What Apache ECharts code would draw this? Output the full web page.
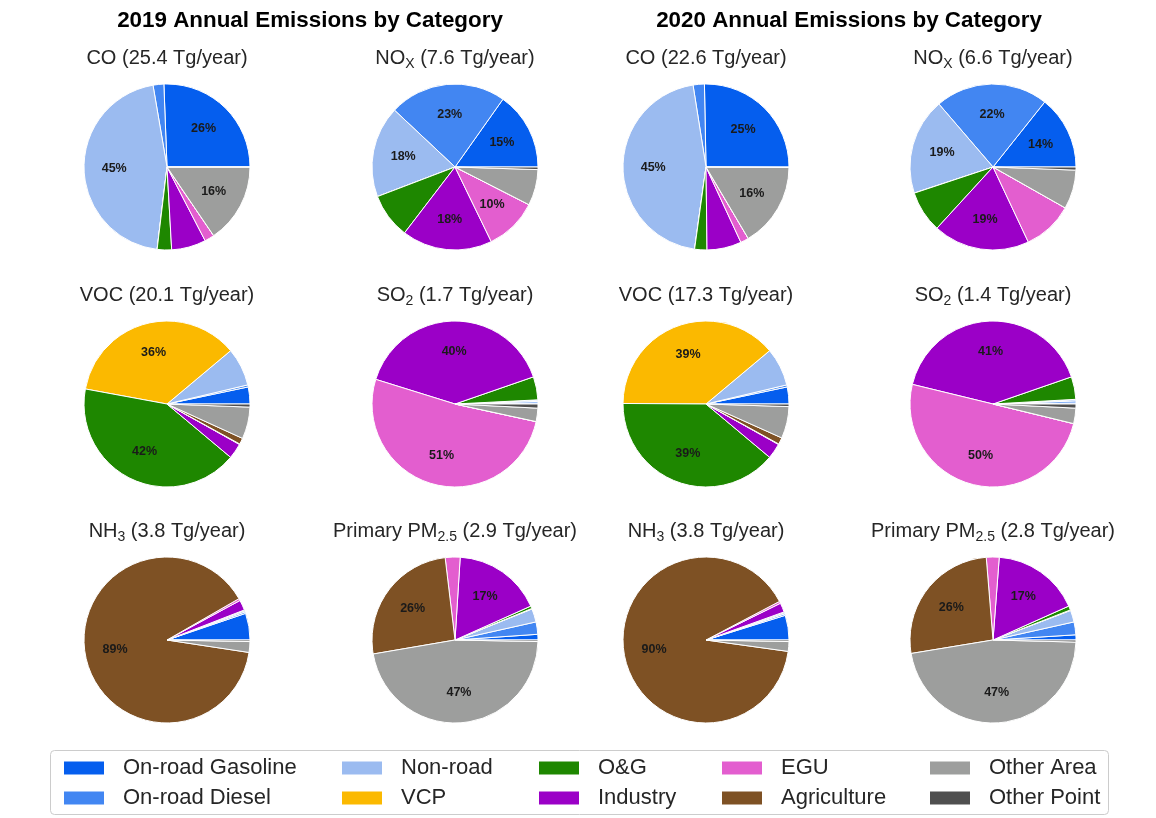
<!DOCTYPE html>
<html>
<head>
<meta charset="utf-8">
<script src="https://cdn.jsdelivr.net/npm/echarts@6/dist/echarts.min.js"></script>
<style>
  html, body { margin: 0; padding: 0; background: #ffffff; }
  #chart { width: 1156px; height: 818px; }
</style>
</head>
<body>
<div id="chart"></div>
<script>
// Emission source categories (pie slice order, counter-clockwise from 3 o'clock)
const categories = ['On-road Gasoline', 'On-road Diesel', 'Non-road', 'VCP', 'O&G',
                    'Industry', 'EGU', 'Agriculture', 'Other Area', 'Other Point'];
const categoryColors = ['#055eee', '#4286f2', '#9bbbf0', '#fbb900', '#1e8700',
                        '#9b00c7', '#e35ecf', '#7e5124', '#9d9e9d', '#4f4f4f'];

// Share of annual emissions by category (%), one array per pollutant and year
const co2019  = [25.6, 2.1, 45.4, 0, 2.8, 6.7, 1.9, 0, 15.5, 0];
const nox2019 = [15.2, 22.8, 17.8, 0, 8.8, 17.6, 10.3, 0, 7.0, 0.5];
const voc2019 = [3.3, 0.4, 7.4, 36.0, 41.8, 3.0, 0.1, 1.2, 6.2, 0.6];
const so22019 = [0.2, 0.3, 0.3, 0, 4.5, 39.9, 51.4, 0, 2.6, 0.8];
const nh32019 = [5.2, 0.3, 0.3, 0, 0.1, 2.0, 0.4, 89.3, 2.1, 0.3];
const pm2019  = [1.1, 2.4, 2.6, 0.1, 0.5, 17.3, 2.9, 25.8, 47.0, 0.3];

const co2020  = [25.3, 2.2, 45.3, 0, 2.4, 6.7, 1.6, 0, 16.4, 0.1];
const nox2020 = [14.3, 22.0, 18.8, 0, 8.1, 18.8, 9.8, 0, 7.6, 0.6];
const voc2020 = [3.3, 0.4, 7.4, 38.8, 39.0, 3.0, 0.1, 1.3, 6.2, 0.5];
const so22020 = [0.2, 0.4, 0.3, 0, 4.4, 40.9, 50.0, 0, 3.0, 0.8];
const nh32020 = [4.8, 0.3, 0.3, 0, 0.1, 1.8, 0.4, 90.1, 1.9, 0.3];
const pm2020  = [1.0, 2.5, 2.3, 0.1, 0.8, 17.1, 2.5, 26.3, 47.0, 0.4];

// Panel titles (rich text: {s|...} is a subscript)
const panelTitles = [
  ['CO (25.4 Tg/year)', 'NO{s|X} (7.6 Tg/year)', 'CO (22.6 Tg/year)', 'NO{s|X} (6.6 Tg/year)'],
  ['VOC (20.1 Tg/year)', 'SO{s|2} (1.7 Tg/year)', 'VOC (17.3 Tg/year)', 'SO{s|2} (1.4 Tg/year)'],
  ['NH{s|3} (3.8 Tg/year)', 'Primary PM{s|2.5} (2.9 Tg/year)', 'NH{s|3} (3.8 Tg/year)', 'Primary PM{s|2.5} (2.8 Tg/year)']
];
const panelValues = [
  [co2019, nox2019, co2020, nox2020],
  [voc2019, so22019, voc2020, so22020],
  [nh32019, pm2019, nh32020, pm2020]
];
const yearTitles = ['2019 Annual Emissions by Category', '2020 Annual Emissions by Category'];

// Layout
const FONT = "'Liberation Sans', Arial, Helvetica, sans-serif";
const colX = [167, 455, 706, 993];
const rowY = [167, 404, 640];
const R = 83;
const labelThreshold = 10; // percent labels shown only for large wedges

const titles = [];
const series = [];

yearTitles.forEach((t, i) => {
  titles.push({
    text: t, left: i === 0 ? 310 : 849, top: 10, textAlign: 'center', padding: 0,
    textStyle: { fontFamily: FONT, fontSize: 22.4, fontWeight: 'bold', color: '#000' }
  });
});

panelValues.forEach((row, r) => {
  row.forEach((vals, c) => {
    titles.push({
      text: panelTitles[r][c], left: colX[c], top: rowY[r] - 122, textAlign: 'center', padding: 0,
      textStyle: {
        fontFamily: FONT, fontSize: 20, fontWeight: 'normal', color: '#262626', lineHeight: 26,
        rich: { s: { fontFamily: FONT, fontSize: 14, fontWeight: 'normal', color: '#262626', verticalAlign: 'bottom', lineHeight: 22 } }
      }
    });
    const total = vals.reduce((a, b) => a + b, 0);
    const data = categories.map((name, k) => ({
      name, value: vals[k], itemStyle: { color: categoryColors[k] }
    }));
    // wedges
    series.push({
      type: 'pie', center: [colX[c], rowY[r]], radius: R,
      startAngle: 0, clockwise: false, minAngle: 0, avoidLabelOverlap: false,
      silent: true, animation: false,
      itemStyle: { borderColor: '#ffffff', borderWidth: 1 },
      label: { show: false }, labelLine: { show: false },
      emphasis: { disabled: true },
      data
    });
    // percentage labels, placed at 0.6 of the radius via a transparent ring
    series.push({
      type: 'pie', center: [colX[c], rowY[r]], radius: [R * 0.2, R],
      startAngle: 0, clockwise: false, minAngle: 0, avoidLabelOverlap: false,
      silent: true, animation: false,
      itemStyle: { color: 'rgba(0,0,0,0)', borderWidth: 0 },
      labelLine: { show: false },
      emphasis: { disabled: true },
      label: {
        show: true, position: 'inside',
        fontFamily: FONT, fontSize: 12.5, fontWeight: 'bold', color: '#1a1a1a',
        formatter: p => {
          const pct = p.value / total * 100;
          return pct >= labelThreshold ? Math.round(pct) + '%' : '';
        }
      },
      data: categories.map((name, k) => ({ name: name + ' ', value: vals[k] }))
    });
  });
});

// Legend: five columns of two entries each
const legendLeft = [62, 340, 537, 720, 928];
const legends = legendLeft.map((x, i) => ({
  orient: 'vertical', left: x, top: 757, padding: 0, itemGap: 8, height: 60,
  itemWidth: 42, itemHeight: 15, icon: 'rect', selectedMode: false,
  textStyle: { fontFamily: FONT, fontSize: 22, color: '#262626', lineHeight: 22, padding: [0, 0, 0, 13] },
  data: [0, 1].map(j => {
    const k = i * 2 + j;
    return { name: categories[k], itemStyle: { color: categoryColors[k] } };
  })
}));

const chart = echarts.init(document.getElementById('chart'), null, { renderer: 'canvas' });
chart.setOption({
  backgroundColor: '#ffffff',
  animation: false,
  title: titles,
  legend: legends,
  graphic: [{
    type: 'rect', left: 50, top: 750, z: -1,
    shape: { width: 1058, height: 64, r: 4 },
    style: { fill: '#ffffff', stroke: '#cccccc', lineWidth: 1 }
  }],
  series
});
</script>
</body>
</html>
